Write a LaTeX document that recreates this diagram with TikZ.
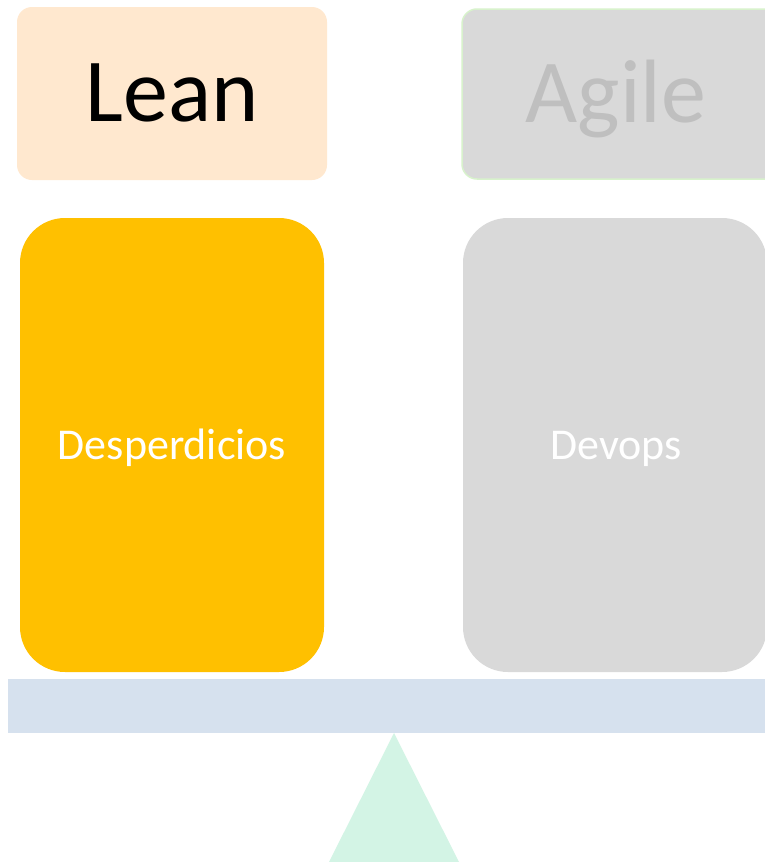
\documentclass[tikz,border=0pt]{standalone}
\usepackage{fontspec}
\setmainfont{Carlito}
\definecolor{leanfill}{HTML}{FFE8CF}
\definecolor{greyfill}{HTML}{D9D9D9}
\definecolor{agiletext}{HTML}{BFBFBF}
\definecolor{agileedge}{HTML}{D8F2CC}
\definecolor{gold}{HTML}{FFC000}
\definecolor{barfill}{HTML}{D6E1EE}
\definecolor{mint}{HTML}{D3F4E5}
\begin{document}
\begin{tikzpicture}[x=1pt,y=-1pt,
  titlebox/.style={rounded corners=15pt, inner sep=0pt},
  pillar/.style={rounded corners=45pt, inner sep=0pt},
  bigtext/.style={font=\fontsize{90}{100}\selectfont, anchor=base},
  midtext/.style={font=\fontsize{44}{50}\selectfont, text=white, anchor=base}]
\useasboundingbox (0,0) rectangle (765,862);
\clip (0,0) rectangle (765,862);
\fill[white] (0,0) rectangle (765,862);
% title boxes
\fill[leanfill, titlebox] (17,7) rectangle (327,180);
\node[bigtext, text=black] (lean) at (172,121) {Lean};
\filldraw[fill=greyfill, draw=agileedge, line width=1.5pt, titlebox] (462,9) rectangle (785,179);
\node[bigtext, text=agiletext] (agile) at (616,122) {Agile};
% pillars
\fill[gold, pillar] (20,218) rectangle (324,672);
\node[midtext] (desp) at (172,459) {Desperdicios};
\fill[greyfill, pillar] (463,218) rectangle (767,672);
\node[midtext] (devops) at (616,459) {Devops};
% beam
\fill[barfill] (8,679) rectangle (765,733);
\coordinate (apex) at (394,733);
% fulcrum
\fill[mint] (apex) -- (459,862) -- (329,862) -- cycle;
\end{tikzpicture}
\end{document}
